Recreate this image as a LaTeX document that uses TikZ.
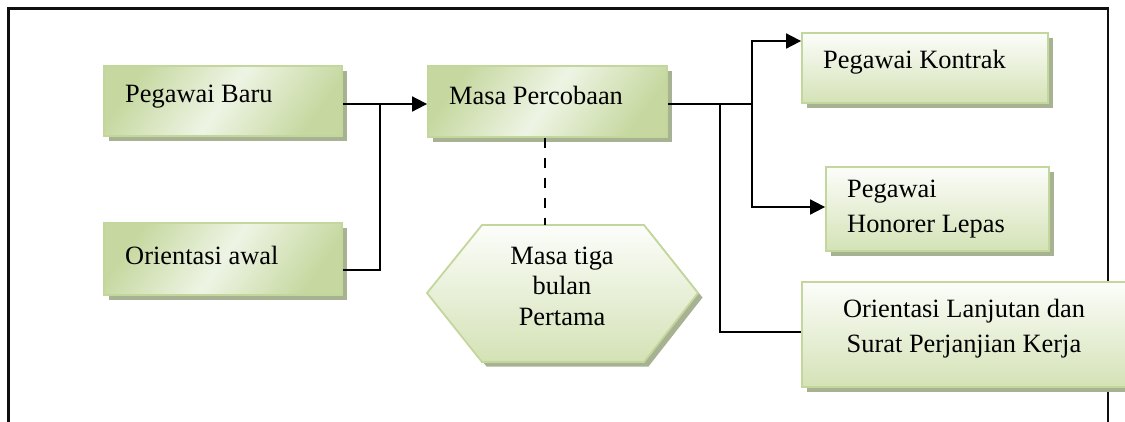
\documentclass[tikz,border=0pt]{standalone}
\usepackage{fontspec}
\setmainfont{Liberation Serif}
\usetikzlibrary{shadows,arrows.meta,calc}
\definecolor{bordc}{RGB}{195,214,155}
\definecolor{gA}{RGB}{198,216,160}
\definecolor{gB}{RGB}{238,244,228}
\definecolor{gTop}{RGB}{252,253,250}
\definecolor{gBot}{RGB}{212,226,182}
\definecolor{shc}{RGB}{166,178,146}
\definecolor{framec}{RGB}{15,15,15}
\begin{document}
\begin{tikzpicture}[x=1pt,y=-1pt,
  boxbase/.style={draw=bordc, line width=1.8pt, inner sep=0pt,
    drop shadow={shadow xshift=4.5pt, shadow yshift=-4.5pt, fill=shc, opacity=1}},
  diagbox/.style={boxbase, top color=gA, bottom color=gA, middle color=gB, shading angle=55},
  vertbox/.style={boxbase, top color=gTop, bottom color=gBot},
  txt/.style={font=\fontsize{26.4}{35}\selectfont, inner sep=0pt, align=left},
  conn/.style={line width=1.8pt, black},
  arr/.style={conn, -{Triangle[length=15pt,width=15pt]}},
]
\useasboundingbox (0,0) rectangle (1125,421);
% frame
\draw[framec, line width=2.5pt] (8.5,430) -- (8.5,8.5) -- (1108,8.5) -- (1108,430);

% boxes
\node[diagbox, minimum width=238pt, minimum height=70pt] (pb) at (223,101) {};
\node[diagbox, minimum width=238pt, minimum height=72pt] (oa) at (223,259) {};
\node[diagbox, minimum width=239pt, minimum height=71pt] (mp) at (547.5,101.5) {};
\node[vertbox, minimum width=246pt, minimum height=70pt] (kon) at (925,68) {};
\node[vertbox, minimum width=223pt, minimum height=84pt] (hon) at (937.5,209) {};
\node[vertbox, minimum width=330pt, minimum height=105pt] (lan) at (967,334.5) {};
\path[vertbox] (427,293) -- (482,225) -- (644,225) -- (698,293) -- (644,362) -- (482,362) -- cycle;
\coordinate (hextop) at (545,225);

% texts
\node[txt, anchor=west] (tpb) at (125,97) {Pegawai Baru};
\node[txt, anchor=west] (toa) at (125,255) {Orientasi awal};
\node[txt, anchor=west] (tmp) at (449,95) {Masa Percobaan};
\node[txt, anchor=west] (tkon) at (823,62) {Pegawai Kontrak};
\node[txt, anchor=west] (thon) at (847,209.5) {Pegawai\\Honorer Lepas};
\node[txt, align=center] (tlan) at (964,328.5) {Orientasi Lanjutan dan\\Surat Perjanjian Kerja};
\node[txt, align=center, font=\fontsize{26.4}{30.5}\selectfont] (thex) at (562,286) {Masa tiga\\bulan\\Pertama};

% connectors
\coordinate (j1) at (380,104);
\coordinate (j2) at (720,104);
\coordinate (j3) at (752,104);
\draw[arr] ([yshift=-3pt]pb.east) -- ([yshift=-2.5pt]mp.west);
\draw[conn] ([yshift=-11pt]oa.east) -| (j1);
\draw[conn] ([yshift=-2.5pt]mp.east) -- (j3);
\draw[arr] (j3) |- ([yshift=27pt]kon.west);
\draw[arr] (j3) |- ([yshift=2pt]hon.west);
\draw[conn] (j2) |- ([yshift=2.5pt]lan.west);
\draw[conn, line width=2.5pt, dash pattern=on 10pt off 10pt] ([xshift=-2.5pt]mp.south) -- (hextop);
\end{tikzpicture}
\end{document}
